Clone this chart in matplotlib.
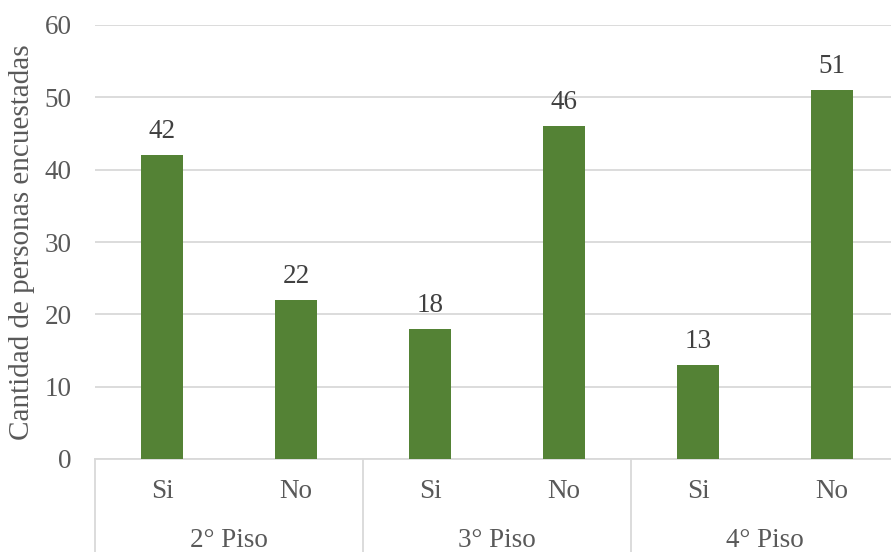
import numpy as np
import matplotlib.pyplot as plt
import matplotlib.transforms as mtransforms

plt.rcParams['font.family'] = ['Liberation Serif', 'DejaVu Serif']

# data
groups = ['2° Piso', '3° Piso', '4° Piso']
answers = ['Si', 'No']
values = [42, 22, 18, 46, 13, 51]
y_label = 'Cantidad de personas encuestadas'

text_color = '#595959'
grid_color = '#d9d9d9'
bar_color = '#548235'

fig = plt.figure(figsize=(8.91, 5.52), dpi=100)
ax = fig.add_axes([95 / 891, (552 - 459) / 552, 804 / 891, (459 - 25) / 552])

x = np.arange(len(values))
ax.bar(x, values, width=0.31, color=bar_color, zorder=3)

for xi, v in zip(x, values):
    ax.annotate(str(v), (xi, v), xytext=(0, 8), textcoords='offset points',
                ha='center', va='bottom', fontsize=19.5, color='#404040')

ax.set_xlim(-0.5, len(values) - 0.5)
ax.set_ylim(0, 60)
ax.set_yticks(np.arange(0, 61, 10))
ax.yaxis.grid(True, color=grid_color, linewidth=1.3, zorder=0)
ax.tick_params(axis='y', length=0, labelsize=19.5, labelcolor=text_color, pad=17)
ax.set_xticks([])

for side in ['top', 'right', 'left']:
    ax.spines[side].set_visible(False)
ax.spines['bottom'].set_color(grid_color)
ax.spines['bottom'].set_linewidth(1.3)

ax.set_ylabel(y_label, fontsize=21, color=text_color, labelpad=7)

# multi-level category axis
trans = mtransforms.blended_transform_factory(ax.transData, ax.transAxes)
n_ans = len(answers)
for i, g in enumerate(groups):
    for j, a in enumerate(answers):
        ax.text(i * n_ans + j, -0.075, a, transform=trans, ha='center', va='center',
                fontsize=19.5, color=text_color)
    ax.text(i * n_ans + (n_ans - 1) / 2, -0.187, g, transform=trans, ha='center',
            va='center', fontsize=19.5, color=text_color)

for b in np.arange(-0.5, len(values), n_ans):
    ax.plot([b, b], [0, -0.22], transform=trans, color=grid_color, linewidth=1.3,
            clip_on=False)
ax.plot([len(values) - 0.5] * 2, [0, -0.22], transform=trans, color=grid_color,
        linewidth=1.3, clip_on=False)

fig.savefig('out.png', dpi=100)
